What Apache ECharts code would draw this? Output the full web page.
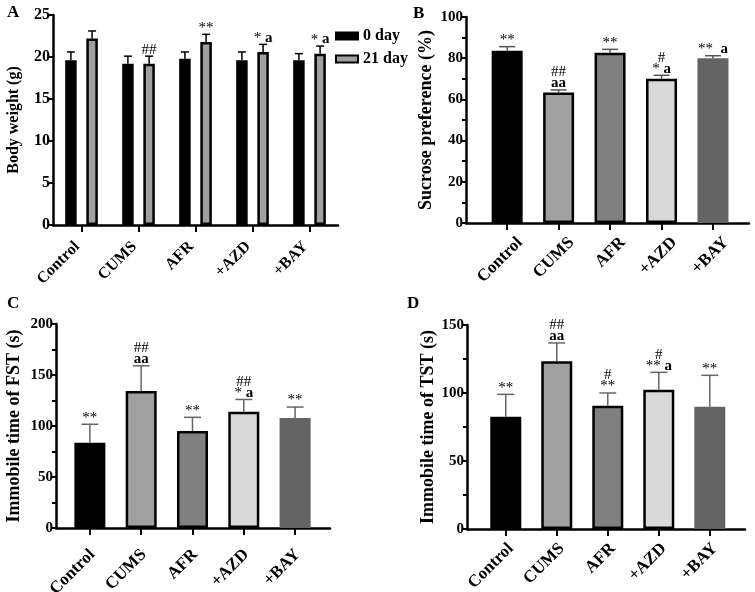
<!DOCTYPE html>
<html><head><meta charset="utf-8">
<script src="https://cdn.jsdelivr.net/npm/echarts@6/dist/echarts.min.js"></script>
<style>html,body{margin:0;padding:0;background:#fff}#c{width:755px;height:592px}</style>
</head><body><div id="c"></div>
<script>
// ---------- data ----------
const groups = ['Control', 'CUMS', 'AFR', '+AZD', '+BAY'];
// Panel A: body weight (g)
const bw0      = [19.6, 19.2, 19.8, 19.6, 19.6];
const bw0Err   = [1.0, 0.9, 0.8, 1.0, 0.8];
const bw21     = [22.2, 19.2, 21.8, 20.6, 20.4];
const bw21Err  = [0.9, 0.9, 0.9, 0.9, 0.9];
const bw21Marks = ['', '##', '**', '* a', '* a'];
// Panel B: sucrose preference (%)
const sucrose      = [83.6, 63.3, 82.7, 70.0, 80.0];
const sucroseErr   = [2.0, 1.3, 1.6, 1.7, 1.2];
const sucroseMarks = ['**', '##\naa', '**', '#\n* a', '**  a'];
// Panel C: immobile time FST (s)
const fst      = [83.6, 134.3, 95.0, 114.0, 107.8];
const fstErr   = [18.1, 24.7, 13.5, 12.0, 10.8];
const fstMarks = ['**', '##\naa', '**', '##\n* a', '**'];
// Panel D: immobile time TST (s)
const tst      = [82.6, 123.3, 90.7, 102.4, 89.9];
const tstErr   = [16.4, 13.5, 9.3, 12.8, 23.1];
const tstMarks = ['**', '##\naa', '#\n**', '#\n** a', '**'];

// ---------- styles ----------
const FF = 'Liberation Serif';
const fills   = ['#000000', '#a0a0a0', '#808080', '#d9d9d9', '#646464'];
const borders = ['#000000', '#000000', '#000000', '#000000', '#646464'];

function richify(m) {
  return m.split('\n').map(line =>
    line.split(/(a+)/).filter(s => s.length).map(s => s[0] === 'a' ? '{b|' + s + '}' : '{n|' + s + '}').join('')
  ).join('\n');
}
const richStyle = {
  n: { fontFamily: FF, fontSize: 15, fontWeight: 'normal', fill: '#000', lineHeight: 11 },
  b: { fontFamily: FF, fontSize: 15, fontWeight: 'bold', fill: '#000', lineHeight: 11 }
};

function errSeries(axis, vals, errs, marks, offset, color, capW, lw) {
  return {
    type: 'custom', xAxisIndex: axis, yAxisIndex: axis, z: 5, silent: true,
    data: vals.map((v, i) => [i, v, errs[i]]),
    renderItem(params, api) {
      const i = api.value(0), v = api.value(1), e = api.value(2);
      const p0 = api.coord([i, v]), p1 = api.coord([i, v + e]);
      const x = p0[0] + offset;
      const children = [
        { type: 'line', shape: { x1: x, y1: p0[1], x2: x, y2: p1[1] }, style: { stroke: color, lineWidth: lw } },
        { type: 'line', shape: { x1: x - capW / 2, y1: p1[1], x2: x + capW / 2, y2: p1[1] }, style: { stroke: color, lineWidth: lw } }
      ];
      const m = marks ? marks[params.dataIndex] : '';
      if (m) {
        children.push({ type: 'text', x: x, y: p1[1] - 1,
          style: { text: richify(m), rich: richStyle, align: 'center', verticalAlign: 'bottom', fill: '#000' } });
      }
      return { type: 'group', children };
    }
  };
}

function singleBars(axis, vals) {
  return {
    type: 'bar', xAxisIndex: axis, yAxisIndex: axis, barWidth: 31, z: 2,
    data: vals.map((v, i) => ({ value: [i, v], itemStyle: { color: fills[i], borderColor: borders[i], borderWidth: 2.5 } }))
  };
}

function yAxis(gi, max, interval, name, nameGap, nameSize, labelSize, minor) {
  return {
    type: 'value', gridIndex: gi, min: 0, max: max, interval: interval,
    name: name, nameLocation: 'middle', nameGap: nameGap,
    nameTextStyle: { color: '#000', fontFamily: FF, fontWeight: 'bold', fontSize: nameSize },
    axisLine: { show: true, onZero: false, lineStyle: { color: '#000', width: 2.5 } },
    axisTick: { show: true, length: 5, lineStyle: { color: '#000', width: 2 } },
    minorTick: { show: minor, splitNumber: 2, length: 4, lineStyle: { color: '#000', width: 2 } },
    splitLine: { show: false },
    axisLabel: { color: '#000', fontFamily: FF, fontWeight: 'bold', fontSize: labelSize, margin: 3 }
  };
}
const xLabel = (size, margin) => ({ color: '#000', fontFamily: FF, fontWeight: 'bold', fontSize: size, rotate: 45, margin: margin });
const TICKS = [0, 1, 2, 3, 4];
function xValAxis(gi, min, max, shift, margin) {
  return {
    type: 'value', gridIndex: gi, min: min, max: max,
    axisLine: { show: true, onZero: false, lineStyle: { color: '#000', width: 2.5 } },
    axisTick: { show: true, length: 7, customValues: TICKS, lineStyle: { color: '#000', width: 2 } },
    splitLine: { show: false },
    axisLabel: Object.assign(xLabel(17, margin), {
      customValues: TICKS.map(t => t + shift),
      formatter: v => groups[Math.round(v - shift)]
    })
  };
}

const chart = echarts.init(document.getElementById('c'), null, { renderer: 'canvas' });
chart.setOption({
  animation: false,
  backgroundColor: '#fff',
  textStyle: { fontFamily: FF },
  grid: [
    { left: 53, top: 15, width: 285, height: 210, outerBoundsMode: 'none', containLabel: false },
    { left: 466, top: 17, width: 283, height: 206, outerBoundsMode: 'none', containLabel: false },
    { left: 56, top: 324, width: 274, height: 204, outerBoundsMode: 'none', containLabel: false },
    { left: 467, top: 325, width: 278, height: 204, outerBoundsMode: 'none', containLabel: false }
  ],
  legend: {
    data: ['0 day', '21 day'], orient: 'vertical', left: 330, top: 23,
    itemWidth: 22, itemHeight: 7, itemGap: 7, icon: 'rect',
    textStyle: { color: '#000', fontFamily: FF, fontWeight: 'bold', fontSize: 16 }
  },
  xAxis: [
    {
      type: 'category', gridIndex: 0, data: groups,
      axisLine: { show: true, onZero: false, lineStyle: { color: '#000', width: 2.5 } },
      axisTick: { show: true, alignWithLabel: true, length: 7, lineStyle: { color: '#000', width: 2 } },
      axisLabel: Object.assign(xLabel(16, 15), { padding: [0, 6, 0, 0] })
    },
    xValAxis(1, -0.80, 4.70, 0.25, 17),
    xValAxis(2, -0.66, 4.68, 0.05, 24),
    xValAxis(3, -0.76, 4.69, 0.10, 17)
  ],
  yAxis: [
    yAxis(0, 25, 5, 'Body weight (g)', 31, 16, 16, false),
    yAxis(1, 100, 20, 'Sucrose preference (%)', 31, 18, 15, true),
    yAxis(2, 200, 50, 'Immobile time of FST (s)', 33, 18, 15, true),
    yAxis(3, 150, 50, 'Immobile time of TST (s)', 29, 18, 15, true)
  ],
  graphic: [
    { type: 'text', left: 7, top: 4, style: { text: 'A', font: 'bold 17px "Liberation Serif"', fill: '#000' } },
    { type: 'text', left: 413, top: 5, style: { text: 'B', font: 'bold 17px "Liberation Serif"', fill: '#000' } },
    { type: 'text', left: 7, top: 295, style: { text: 'C', font: 'bold 17px "Liberation Serif"', fill: '#000' } },
    { type: 'text', left: 407, top: 295, style: { text: 'D', font: 'bold 17px "Liberation Serif"', fill: '#000' } }
  ],
  series: [
    { type: 'bar', name: '0 day', xAxisIndex: 0, yAxisIndex: 0, data: bw0, barWidth: 11.5, barGap: '84%',
      itemStyle: { color: '#000', borderColor: '#000', borderWidth: 2.5 } },
    { type: 'bar', name: '21 day', xAxisIndex: 0, yAxisIndex: 0, data: bw21, barWidth: 11.5, barGap: '84%',
      itemStyle: { color: '#a0a0a0', borderColor: '#000', borderWidth: 2.5 } },
    errSeries(0, bw0, bw0Err, null, -10.6, '#000', 8, 1.5),
    errSeries(0, bw21, bw21Err, bw21Marks, 10.6, '#000', 8, 1.5),
    singleBars(1, sucrose),
    errSeries(1, sucrose, sucroseErr, sucroseMarks, 0, '#555', 16, 1.5),
    singleBars(2, fst),
    errSeries(2, fst, fstErr, fstMarks, 0, '#666', 17, 1.5),
    singleBars(3, tst),
    errSeries(3, tst, tstErr, tstMarks, 0, '#666', 17, 1.5)
  ]
});
</script>
</body></html>
